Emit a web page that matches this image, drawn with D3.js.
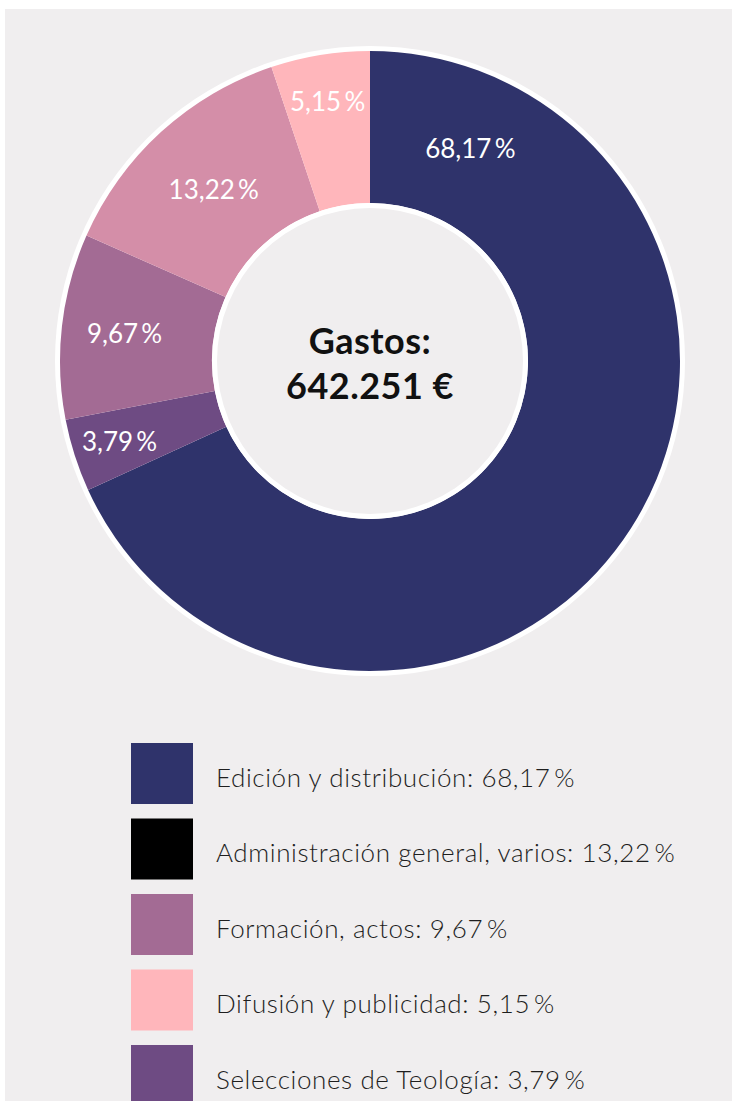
<!DOCTYPE html>
<html>
<head>
<meta charset="utf-8">
<script src="https://cdn.jsdelivr.net/npm/d3@7"></script>
<style>
  html, body { margin: 0; padding: 0; background: #ffffff; }
  svg { display: block; }
  .slice-label { font-family: Lato, "Open Sans", sans-serif; font-weight: 400; fill: #ffffff; }
  .center-label { font-family: Lato, "Open Sans", sans-serif; font-weight: 700; fill: #111111; }
  .legend-label { font-family: Lato, "Open Sans", sans-serif; font-weight: 300; fill: #1e1e1e; }
</style>
</head>
<body>
<svg id="chart"></svg>
<script>
// slice order, clockwise from 12 o'clock
const categories = [
    "Edición y distribución",
    "Selecciones de Teología",
    "Formación, actos",
    "Administración general, varios",
    "Difusión y publicidad"
];
const values = [68.17, 3.79, 9.67, 13.22, 5.15];
const sliceColors = ["#2f336b", "#6e4b83", "#a36b94", "#d48ea8", "#ffb6bb"];
// the legend swatch for "Administración" is black in the original
const legendColors = ["#2f336b", "#6e4b83", "#a36b94", "#000000", "#ffb6bb"];
const centerLines = ["Gastos:", "642.251 €"];

const width = 732, height = 1101;
const cx = 370, cy = 361;
const outerR = 310, innerR = 158;

const locale = d3.formatLocale({ decimal: ",", thousands: ".", grouping: [3], currency: ["", " €"] });
const fmt = locale.format(".2f");
const pct = v => fmt(v) + "\u2009%";

const svg = d3.select("#chart").attr("width", width).attr("height", height);

svg.append("rect")
    .attr("x", 5).attr("y", 9)
    .attr("width", width - 5).attr("height", height - 9)
    .attr("fill", "#f0eeef");

const g = svg.append("g").attr("transform", `translate(${cx}, ${cy})`);

const rows = categories.map((c, i) => ({ name: c, value: values[i], color: sliceColors[i], legend: legendColors[i] }));

const pie = d3.pie().sort(null).value(d => d.value);
const arcs = pie(rows);

// white rim outside and inside the ring
g.append("circle").attr("r", outerR + 5).attr("fill", "#ffffff");

const arc = d3.arc().innerRadius(innerR).outerRadius(outerR);
g.selectAll("path.slice")
    .data(arcs)
    .join("path")
    .attr("class", "slice")
    .attr("d", arc)
    .attr("fill", d => d.data.color);

g.append("circle").attr("r", innerR).attr("fill", "#ffffff");
g.append("circle").attr("r", innerR - 5).attr("fill", "#f0eeef");

// labels: mid angle for small slices (pushed out when narrow), near the start for the big one
const isBig = d => (d.endAngle - d.startAngle) > Math.PI;
const labelAngle = d => isBig(d)
    ? d.startAngle + 0.103 * (d.endAngle - d.startAngle)
    : (d.startAngle + d.endAngle) / 2;
const labelR = d => isBig(d) ? 235 : d.data.value < 6 ? 263 : d.data.value < 10 ? 247 : 232;

g.selectAll("text.slice-label")
    .data(arcs)
    .join("text")
    .attr("class", "slice-label")
    .attr("x", d => Math.sin(labelAngle(d)) * labelR(d))
    .attr("y", d => -Math.cos(labelAngle(d)) * labelR(d))
    .attr("text-anchor", "middle")
    .attr("dy", "0.36em")
    .style("font-size", "26px")
    .text(d => pct(d.data.value));

g.selectAll("text.center-label")
    .data(centerLines)
    .join("text")
    .attr("class", "center-label")
    .attr("x", 0)
    .attr("y", (d, i) => -7 + i * 45)
    .attr("text-anchor", "middle")
    .style("font-size", "36px")
    .style("letter-spacing", "0.5px")
    .text(d => d);

// legend sorted by value
const legendRows = rows.slice().sort((a, b) => b.value - a.value);
const yLegend = d3.scaleBand()
    .domain(legendRows.map(d => d.name))
    .range([743, 1106])
    .paddingInner(0.192)
    .paddingOuter(0);

const legend = svg.append("g").selectAll("g")
    .data(legendRows)
    .join("g")
    .attr("transform", d => `translate(131, ${yLegend(d.name)})`);

legend.append("rect")
    .attr("width", 62)
    .attr("height", yLegend.bandwidth())
    .attr("fill", d => d.legend);

legend.append("text")
    .attr("class", "legend-label")
    .attr("x", 85)
    .attr("y", 44)
    .style("font-size", "26px")
    .style("letter-spacing", "0.6px")
    .text(d => `${d.name}: ${pct(d.value)}`);
</script>
</body>
</html>
